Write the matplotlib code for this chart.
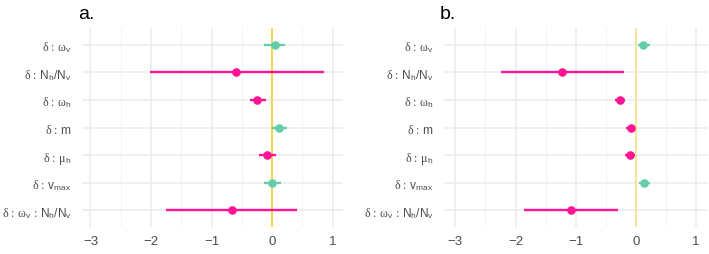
import numpy as np
import matplotlib
matplotlib.use('Agg')
import matplotlib.pyplot as plt

plt.rcParams['font.family'] = ['Liberation Sans', 'DejaVu Sans']
plt.rcParams['mathtext.fontset'] = 'custom'
plt.rcParams['mathtext.rm'] = 'Liberation Serif'
plt.rcParams['mathtext.it'] = 'Liberation Serif'
plt.rcParams['mathtext.sf'] = 'Liberation Sans'

labels = [r'$\mathrm{\delta}\,:\,\mathrm{\omega}_{\mathsf{v}}$',
          r'$\mathrm{\delta}\,:\,\mathsf{N}_{\mathsf{h}}\mathsf{/N}_{\mathsf{v}}$',
          r'$\mathrm{\delta}\,:\,\mathrm{\omega}_{\mathsf{h}}$',
          r'$\mathrm{\delta}\,:\,\mathsf{m}$',
          r'$\mathrm{\delta}\,:\,\mathrm{\mu}_{\mathsf{h}}$',
          r'$\mathrm{\delta}\,:\,\mathsf{v}_{\mathsf{max}}$',
          r'$\mathrm{\delta}\,:\,\mathrm{\omega}_{\mathsf{v}}\,:\,\mathsf{N}_{\mathsf{h}}\mathsf{/N}_{\mathsf{v}}$']

# panel a
est_a = [0.04, -0.59, -0.25, 0.12, -0.09, 0.00, -0.67]
lo_a  = [-0.13, -2.02, -0.37, 0.00, -0.22, -0.13, -1.75]
hi_a  = [0.21, 0.85, -0.10, 0.24, 0.07, 0.14, 0.41]
col_a = ['g', 'p', 'p', 'g', 'p', 'g', 'p']

# panel b
est_b = [0.12, -1.22, -0.26, -0.08, -0.10, 0.14, -1.08]
lo_b  = [0.03, -2.24, -0.34, -0.17, -0.18, 0.05, -1.86]
hi_b  = [0.24, -0.19, -0.18, -0.01, -0.02, 0.23, -0.29]
col_b = ['g', 'p', 'p', 'p', 'p', 'g', 'p']

COLORS = {'g': '#66CDAA', 'p': '#FF1493'}

fig = plt.figure(figsize=(7.09, 2.55), dpi=100, facecolor='white')
ax_a = fig.add_axes([82/709, 1 - 228/255, 261/709, 199/255])
ax_b = fig.add_axes([444/709, 1 - 228/255, 264/709, 199/255])

def panel(ax, est, lo, hi, cols, title, xlim, vcol):
    n = len(labels)
    y = np.arange(n)
    ax.set_ylim(n - 1 + 0.6, -0.6)
    ax.set_xlim(*xlim)
    for v in np.arange(-3, 1.01, 1):
        ax.axvline(v, color='#EBEBEB', lw=1.1, zorder=0)
    for v in np.arange(-2.5, 1.01, 1):
        ax.axvline(v, color='#F2F2F2', lw=0.6, zorder=0)
    for yy in y:
        ax.axhline(yy, color='#EBEBEB', lw=1.1, zorder=0)
    ax.axvline(0, color=vcol, lw=1.2, zorder=1)
    for i in range(n):
        c = COLORS[cols[i]]
        ax.plot([lo[i], hi[i]], [i, i], color=c, lw=1.7, solid_capstyle='butt', zorder=2)
        ax.plot(est[i], i, 'o', color=c, ms=6.2, mec='none', zorder=3)
    ax.set_yticks(y)
    ax.set_yticklabels(labels, fontsize=8.6, color='#4D4D4D')
    ax.set_xticks([-3, -2, -1, 0, 1])
    ax.set_xticklabels(['\u22123', '\u22122', '\u22121', '0', '1'], fontsize=9.5, color='#4D4D4D')
    ax.tick_params(length=0, pad=6)
    ax.tick_params(axis='y', pad=7.5)
    for s in ax.spines.values():
        s.set_visible(False)
    ax.set_title(title, loc='left', fontsize=14, x=-0.015, pad=7)

panel(ax_a, est_a, lo_a, hi_a, col_a, 'a.', (-3.14, 1.17), '#F2D13A')
panel(ax_b, est_b, lo_b, hi_b, col_b, 'b.', (-3.19, 1.2), '#F3E48E')

fig.savefig('out.png', dpi=100, facecolor='white')
